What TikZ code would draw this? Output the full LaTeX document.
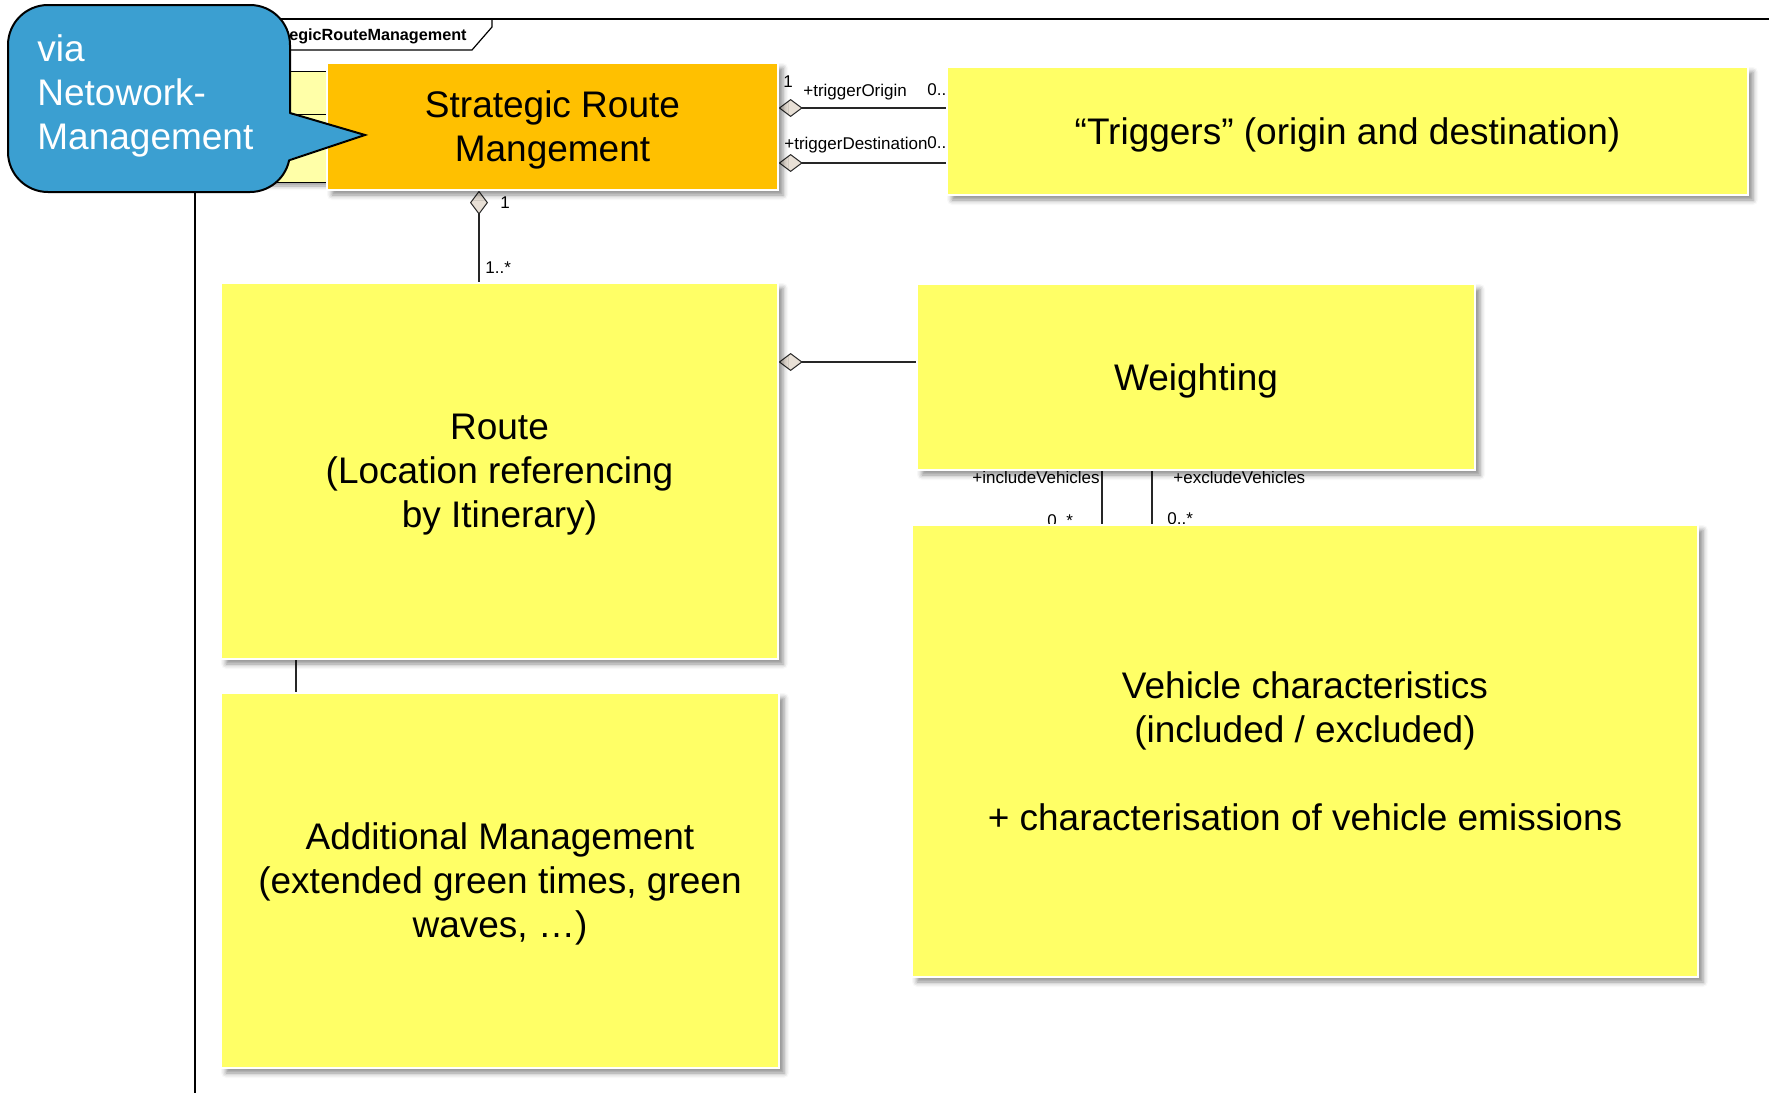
\documentclass[tikz,border=0pt]{standalone}
\usepackage{fontspec}
\setmainfont{Liberation Sans}
\usetikzlibrary{arrows.meta,shadows.blur,calc}

\definecolor{noteyellow}{RGB}{255,255,102}
\definecolor{keyorange}{RGB}{255,192,0}
\definecolor{calloutblue}{RGB}{59,159,209}
\definecolor{classpale}{RGB}{255,255,168}
\definecolor{diamondfill}{RGB}{232,224,214}

\pgfdeclarelayer{back}
\pgfsetlayers{back,main}

\newcommand{\bigtext}{\fontsize{18.5}{22}\selectfont}
\newcommand{\smalltext}{\fontsize{8.5}{10}\selectfont}

\tikzset{
  notebox/.style={draw=white, line width=0.6pt, fill=noteyellow, inner sep=0pt,
    align=center, font=\bigtext, text depth=0pt,
    blur shadow={shadow xshift=2.5pt, shadow yshift=-2.5pt,
      shadow blur radius=2.5pt, shadow opacity=45}},
  keybox/.style={notebox, fill=keyorange},
  assoc/.style={draw=black!85, line width=0.75pt},
  agg/.style={assoc, {Diamond[length=12pt, width=9pt, fill=diamondfill, line width=0.5pt]}-},
  role/.style={font=\smalltext, inner sep=0pt},
  framebar/.style={draw=black, line width=0.6pt},
}

\begin{document}
\begin{tikzpicture}[x=0.5pt, y=-0.5pt]
\useasboundingbox (0,0) rectangle (1769,1093);

% partly hidden class behind the key element
\draw[fill=classpale, line width=0.5pt,
  blur shadow={shadow xshift=2pt, shadow yshift=-2pt, shadow blur radius=2pt, shadow opacity=40}]
  (250,71) rectangle (340,182);
\draw[line width=0.5pt] (250,114) -- (340,114);

% boxes
\node[keybox, minimum width=225.5pt, minimum height=63.5pt] (sr) at (552.5,126.5)
  {Strategic Route\\Mangement};
\node[notebox, minimum width=400.5pt, minimum height=64pt] (tr) at (1347.5,131)
  {“Triggers” (origin and destination)};
\node[notebox, minimum width=278.5pt, minimum height=188pt] (rt) at (499.5,471)
  {Route\\(Location referencing\\by Itinerary)};
\node[notebox, minimum width=279pt, minimum height=93pt] (wt) at (1196,377)
  {Weighting};
\node[notebox, minimum width=393pt, minimum height=226pt] (vh) at (1305,751)
  {Vehicle characteristics\\(included / excluded)\\[22pt]+ characterisation of vehicle emissions};
\node[notebox, minimum width=279pt, minimum height=187.5pt] (ad) at (500,880.5)
  {Additional Management\\(extended green times, green\\waves, …)};

\begin{pgfonlayer}{back}
  % package frame
  \draw[framebar] (195,1093) -- (195,19) -- (1769,19);
  \draw[framebar] (195,50) -- (472,50) -- (492,27) -- (492,19);
  \node[font=\bfseries\fontsize{8.1}{10}\selectfont, anchor=east, inner sep=0pt] (pkg)
    at (467,36) {StrategicRouteManagement};

  % connector guide positions
  \coordinate (yo) at (0,108);
  \coordinate (yd) at (0,163);
  \coordinate (xr) at (479,0);
  \coordinate (yw) at (0,362);
  \coordinate (xi) at (1102,0);
  \coordinate (xe) at (1152,0);
  \coordinate (xa) at (296,0);

  \draw[agg] (sr.east |- yo) -- (tr.west |- yo);
  \draw[agg] (sr.east |- yd) -- (tr.west |- yd);
  \draw[agg] (sr.south -| xr) -- (rt.north -| xr);
  \draw[agg] (rt.east |- yw) -- (wt.west |- yw);
  \draw[assoc] (wt.south -| xi) -- (vh.north -| xi);
  \draw[assoc] (wt.south -| xe) -- (vh.north -| xe);
  \draw[assoc] (rt.south -| xa) -- (ad.north -| xa);

  % role names and multiplicities
  \node[role, anchor=west] (m1) at (783,82) {1};
  \node[role, anchor=west] (r1) at (803,92) {+triggerOrigin};
  \node[role, anchor=west] (m2) at (927,90) {0..};
  \node[role, anchor=west] (r2) at (784,145) {+triggerDestination};
  \node[role, anchor=west] (m3) at (927,143) {0..};
  \node[role, anchor=west] (m4) at (500,203) {1};
  \node[role, anchor=west] (m5) at (485,268) {1..*};
  \node[role, anchor=east] (r3) at (1100,477) {+includeVehicles};
  \node[role, anchor=west] (r4) at (1173,477) {+excludeVehicles};
  \node[role, anchor=west] (m6) at (1047,521) {0..*};
  \node[role, anchor=west] (m7) at (1167,519) {0..*};
\end{pgfonlayer}

% speech callout
\draw[fill=calloutblue, draw=black, line width=1pt, rounded corners=20pt]
  (8,5) rectangle (290,192);
\fill[calloutblue] (287,113) -- (365,135) -- (287,160) -- cycle;
\draw[line width=1pt, line join=miter] (290,113) -- (365,135) -- (290,160);
\node[font=\bigtext, text=white, align=left, anchor=west, inner sep=0pt] (via)
  at (37,96) {via\\Netowork-\\Management};

\end{tikzpicture}
\end{document}
